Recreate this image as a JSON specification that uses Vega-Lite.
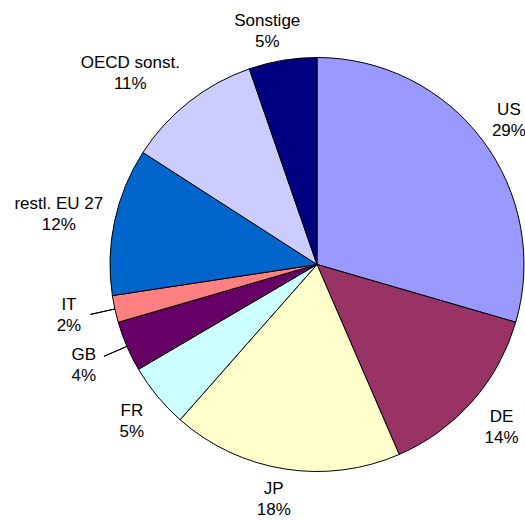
{
  "$schema": "https://vega.github.io/schema/vega-lite/v6.json",
  "width": 634,
  "height": 529,
  "autosize": {"type": "none"},
  "padding": {"left": 0, "top": 0, "right": -109, "bottom": -9},
  "background": "white",
  "config": {
    "view": {"stroke": null},
    "text": {"font": "Liberation Sans", "fontSize": 17, "lineBreak": "\n", "lineHeight": 21, "align": "center", "baseline": "middle", "color": "black"}
  },
  "data": {
    "values": [
      {"idx": 1, "land": "US", "share": 29.5, "label": "US\n29%"},
      {"idx": 2, "land": "DE", "share": 14.0, "label": "DE\n14%"},
      {"idx": 3, "land": "JP", "share": 18.0, "label": "JP\n18%"},
      {"idx": 4, "land": "FR", "share": 5.05, "label": "FR\n5%"},
      {"idx": 5, "land": "GB", "share": 3.95, "label": "GB\n4%"},
      {"idx": 6, "land": "IT", "share": 2.1, "label": "IT\n2%"},
      {"idx": 7, "land": "restl. EU 27", "share": 11.5, "label": "restl. EU 27\n12%"},
      {"idx": 8, "land": "OECD sonst.", "share": 10.6, "label": "OECD sonst.\n11%"},
      {"idx": 9, "land": "Sonstige", "share": 5.3, "label": "Sonstige\n5%"}
    ]
  },
  "encoding": {
    "theta": {"field": "share", "type": "quantitative", "stack": true},
    "order": {"field": "idx", "type": "quantitative"}
  },
  "layer": [
    {
      "mark": {"type": "arc", "outerRadius": 207, "stroke": "black", "strokeWidth": 1},
      "encoding": {
        "color": {
          "field": "land",
          "type": "nominal",
          "scale": {
            "domain": ["US", "DE", "JP", "FR", "GB", "IT", "restl. EU 27", "OECD sonst.", "Sonstige"],
            "range": ["#9999FF", "#993366", "#FFFFCC", "#CCFFFF", "#660066", "#FF8080", "#0066CC", "#CCCCFF", "#000080"]
          },
          "legend": null
        }
      }
    },
    {
      "mark": {"type": "arc", "innerRadius": 207, "outerRadius": 232, "padAngle": 1.5, "fill": "white", "fillOpacity": 0, "stroke": "black", "strokeWidth": 1},
      "encoding": {
        "strokeOpacity": {"condition": {"test": "datum.land === 'GB' || datum.land === 'IT'", "value": 1}, "value": 0}
      }
    },
    {
      "mark": {"type": "text", "radius": 240, "dy": -10.5},
      "encoding": {
        "text": {"condition": {"test": "datum.land === 'US'", "field": "label"}, "value": ""}
      }
    },
    {
      "mark": {"type": "text", "radius": 240, "dy": -6.5},
      "encoding": {
        "text": {"condition": {"test": "datum.land === 'FR'", "field": "label"}, "value": ""}
      }
    },
    {
      "mark": {"type": "text", "radius": 238, "dx": -6, "dy": -11},
      "encoding": {
        "text": {"condition": {"test": "datum.land === 'JP'", "field": "label"}, "value": ""}
      }
    },
    {
      "mark": {"type": "text", "radius": 246, "dy": -10.5},
      "encoding": {
        "text": {"condition": {"test": "datum.land === 'DE'", "field": "label"}, "value": ""}
      }
    },
    {
      "mark": {"type": "text", "radius": 254, "dy": -10.5},
      "encoding": {
        "text": {"condition": {"test": "datum.land === 'GB'", "field": "label"}, "value": ""}
      }
    },
    {
      "mark": {"type": "text", "radius": 254, "dy": -14.5},
      "encoding": {
        "text": {"condition": {"test": "datum.land === 'IT'", "field": "label"}, "value": ""}
      }
    },
    {
      "mark": {"type": "text", "radius": 264, "dy": -5.5},
      "encoding": {
        "text": {"condition": {"test": "datum.land === 'restl. EU 27'", "field": "label"}, "value": ""}
      }
    },
    {
      "mark": {"type": "text", "radius": 265, "dx": -23, "dy": 6.5},
      "encoding": {
        "text": {"condition": {"test": "datum.land === 'OECD sonst.'", "field": "label"}, "value": ""}
      }
    },
    {
      "mark": {"type": "text", "radius": 240, "dx": -10, "dy": -6.5},
      "encoding": {
        "text": {"condition": {"test": "datum.land === 'Sonstige'", "field": "label"}, "value": ""}
      }
    }
  ]
}
